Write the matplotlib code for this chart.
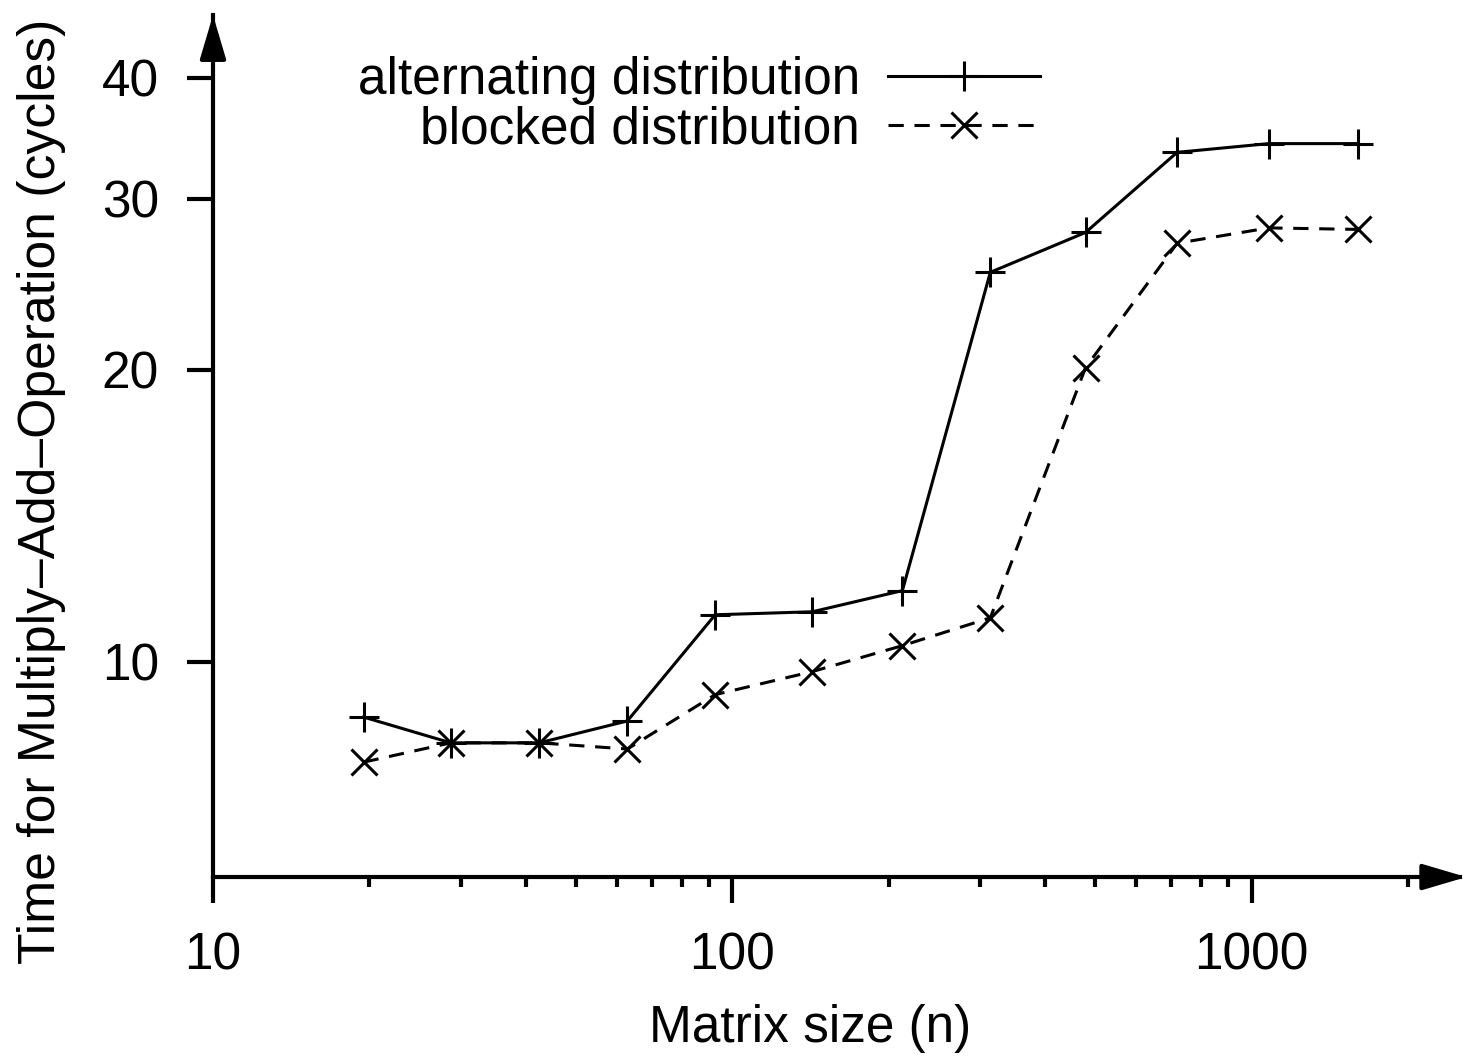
import matplotlib
matplotlib.use("Agg")
import matplotlib.pyplot as plt
import numpy as np

plt.rcParams['font.family'] = ['Liberation Sans', 'DejaVu Sans']

# matrix sizes (n)
n = [19.5, 28.7, 42.5, 62.8, 92.7, 142.6, 212.6, 314, 479, 719, 1079, 1600]
# time per multiply-add (cycles)
alternating = [8.77, 8.25, 8.25, 8.69, 11.18, 11.26, 11.84, 25.2, 27.7, 33.5, 34.2, 34.2]
blocked = [7.88, 8.25, 8.25, 8.13, 9.25, 9.77, 10.39, 11.10, 20.1, 27.0, 28.0, 27.9]

yticks = [10, 20, 30, 40]
xticks = [10, 100, 1000]

fs = 37

fig = plt.figure(figsize=(14.7, 10.6), dpi=100)
ax = fig.add_axes([0.1449, 0.1726, 0.8483, 0.8132])

ax.plot(n, alternating, color='black', lw=2.2, marker='+', ms=21, mew=2.2,
        label='alternating distribution')
ax.plot(n, blocked, color='black', lw=2.2, ls=(0, (5, 3.5)), marker='x', ms=19, mew=2.2,
        label='blocked distribution')

ax.set_xscale('log')
ax.set_yscale('log')
ax.set_xlim(10, 2520)
ax.set_ylim(6.0, 46.4)

ax.set_yticks(yticks)
ax.set_yticklabels([str(v) for v in yticks])
ax.yaxis.set_minor_locator(matplotlib.ticker.NullLocator())
ax.set_xticks(xticks)
ax.set_xticklabels([str(v) for v in xticks])
ax.xaxis.set_minor_locator(matplotlib.ticker.LogLocator(base=10, subs=np.arange(2, 10)))
ax.xaxis.set_minor_formatter(matplotlib.ticker.NullFormatter())

ax.tick_params(which='major', direction='out', length=19, width=3, labelsize=fs, pad=20)
ax.tick_params(which='minor', direction='out', length=7, width=3)
ax.tick_params(axis='y', which='major', pad=20)

for s in ['top', 'right']:
    ax.spines[s].set_visible(False)
for s in ['left', 'bottom']:
    ax.spines[s].set_linewidth(3)

# arrow heads on the axes
head = dict(arrowstyle='-|>,head_length=1.35,head_width=0.4', lw=3,
            color='black', shrinkA=0, shrinkB=0, mutation_scale=20)
ax.annotate('', xy=(1.005, 0), xytext=(0.97, 0), xycoords='axes fraction',
            arrowprops=head, annotation_clip=False)
ax.annotate('', xy=(0, 1), xytext=(0, 0.96), xycoords='axes fraction',
            arrowprops=head, annotation_clip=False)

ax.set_xlabel('Matrix size (n)', fontsize=fs)
ax.xaxis.set_label_coords(0.479, -0.147)
ax.set_ylabel('Time for Multiply\u2013Add\u2013Operation (cycles)', fontsize=37.2)
ax.yaxis.set_label_coords(-0.118, 0.447)

ax.legend(loc='upper right', bbox_to_anchor=(1040 / 1470, 1 - 56 / 1060),
          bbox_transform=fig.transFigure, frameon=False, markerfirst=False,
          fontsize=fs, handlelength=2.95, handletextpad=0.55, labelspacing=0.0,
          borderpad=0, borderaxespad=0)

fig.savefig('out.png', dpi=100)
